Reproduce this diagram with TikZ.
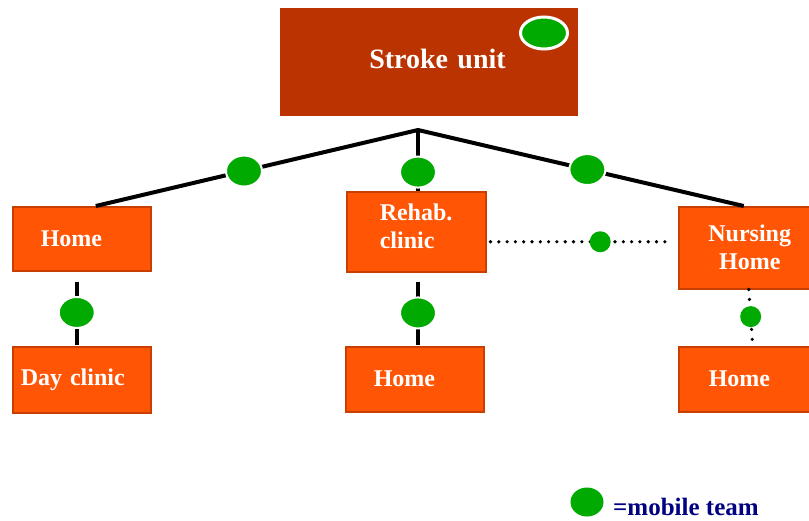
\documentclass[tikz,border=0pt]{standalone}
\usepackage{fontspec}
\setmainfont{Liberation Serif}
\usetikzlibrary{shapes.geometric}
\definecolor{unitred}{RGB}{187,51,0}
\definecolor{boxfill}{RGB}{255,85,5}
\definecolor{boxline}{RGB}{200,64,0}
\definecolor{teamgreen}{RGB}{0,170,0}
\definecolor{legendblue}{RGB}{0,0,128}

\begin{document}
\begin{tikzpicture}[x=1pt,y=-1pt,
        box/.style={draw=boxline,fill=boxfill,line width=1.5pt,anchor=north west,
            text=white,font=\fontsize{24}{28}\selectfont\bfseries,align=left,inner ysep=0pt},
        team/.style={ellipse,fill=teamgreen,draw=white,line width=2pt,
            minimum width=36pt,minimum height=31pt,inner sep=0pt},
        dot/.style={circle,fill=teamgreen,minimum size=21pt,inner sep=0pt},
        link/.style={line width=4pt},
        dotline/.style={line width=3.6pt,line cap=round,dash pattern=on 0pt off 8.3pt}]
        \useasboundingbox (0,0) rectangle (809,520);

        % units
        \node[box,draw=none,fill=unitred,minimum height=108pt,text width=154pt,inner xsep=72pt,
            align=right,text depth=6pt,font=\fontsize{28}{32}\selectfont\bfseries] (unit) at (279,7) {Stroke unit};
        \node[team,line width=3pt,minimum width=47pt,minimum height=32pt] (unitteam) at (544,33) {};
        \node[box,minimum height=64pt,text width=82pt,inner xsep=28pt] (home1) at (12,206) {Home};
        \node[box,minimum height=66pt,text width=122pt,inner xsep=8pt] (day) at (12,346) {Day clinic};
        \node[box,minimum height=80pt,text width=73pt,inner xsep=33pt,text depth=40pt] (rehab) at (346,191) {Rehab.\\clinic};
        \node[box,minimum height=82pt,text width=100pt,inner xsep=21pt,align=center] (nurse) at (678,206) {Nursing\\Home};
        \node[box,minimum height=65pt,text width=82pt,inner xsep=28pt] (home2) at (345,346) {Home};
        \node[box,minimum height=65pt,text width=82pt,inner xsep=30pt] (home3) at (678,346) {Home};

        % tree from the stroke unit
        \coordinate (top) at (418,130);
        \coordinate (toleft) at ([xshift=14pt]home1.north);
        \coordinate (toright) at ([xshift=-6pt]nurse.north);
        \draw[link] (toleft) -- node[team,pos=0.46] (teamleft) {} (top)
            -- node[team,pos=0.52] (teamright) {} (toright);
        \draw[link] (top) -- node[team,pos=0.69] (teammid) {} (top |- rehab.north);

        % second level
        \draw[link,shorten <=10pt,shorten >=1pt] ([xshift=-5pt]home1.south)
            -- node[team,pos=0.55] (teamday) {} ([xshift=-5pt]day.north);
        \draw[link,shorten <=9pt,shorten >=1pt] (rehab.south -| top)
            -- node[team,pos=0.55] (teamhome) {} (home2.north -| top);
        \coordinate (dotstart) at ([xshift=4pt,yshift=-10pt]rehab.east);
        \draw[dotline,shorten >=6pt] (dotstart) -- node[dot,pos=0.585] (teamrehab) {} (dotstart -| nurse.west);
        \draw[dotline,dash pattern=on 0pt off 10pt] ([xshift=-1pt]nurse.south)
            -- node[dot,pos=0.48] (teamnurse) {} ([xshift=3pt]home3.north);

        % legend
        \node[team,draw=none,minimum width=33pt,minimum height=29pt] (legendteam) at (587,502) {};
        \node[anchor=base west,text=legendblue,font=\fontsize{25}{30}\selectfont\bfseries,
            inner sep=0pt] (legend) at (613,515) {=mobile team};
    \end{tikzpicture}
\end{document}
